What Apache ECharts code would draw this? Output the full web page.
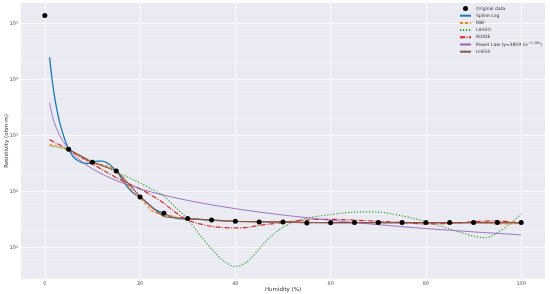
<!DOCTYPE html>
<html><head><meta charset="utf-8">
<script src="https://cdn.jsdelivr.net/npm/echarts@6/dist/echarts.min.js"></script>
<style>html,body{margin:0;padding:0;background:#fff}#c{width:550px;height:294px}</style>
</head><body><div id="c"></div>
<script>
const dataX = [0,5,10,15,20,25,30,35,40,45,50,55,60,65,70,75,80,85,90,95,100];
const dataY = [140000,570,334,234,80,41,33,31,29.5,28.8,28.8,27.6,27.9,28,28,28,28,28,28,28,28];

const splineX = [1,1.5,2,2.5,3,3.5,4,4.5,5,5.5,6,7,8,9,10,11,12,13,14,15,16,17,18,19,20,21,22,23,24,25,26,27,28,30,35,40,45,50,55,60,65,70,75,80,85,90,95,100];
const splineY = [25100,10500,5250,3020,1900,1320,955,725,570,480,415,355,325,318,334,350,352,330,285,234,178,132,105,89,80,68,57,49,44,41,37,35,33,32.7,31,29.5,28.8,28.6,28,27.9,28,28,28,28,28,28,28,28];

const rbfX = [1,2,3,4,5,6,7,8,9,10,11,12,13,14,15,16,17,18,19,20,21,22,23,24,25,26,27,28,30,32.5,35,40,45,50,55,60,65,70,75,80,85,90,92.5,95,97.5,100];
const rbfY = [690,665,640,610,570,500,440,390,355,334,320,305,290,265,234,190,145,112,90,78,62,50,43,40,39.5,38,36,34.5,33,32,31,29.5,28.8,28.8,27.8,27.9,28,28,28,28,28,28,27.5,26.5,26.5,27.5];

const lassoX = [1,2.5,5,7.5,10,12.5,15,17.5,20,22.5,25,27.5,30,32.5,35,37.5,40,42.5,45,47.5,50,52.5,55,57.5,60,62.5,65,67.5,70,72.5,75,77.5,80,82.5,85,87.5,90,92.5,95,97.5,100];
const lassoY = [660,620,560,440,340,280,225,180,143,110,83,52,32,17,9.5,5.8,4.6,5.6,9.5,16,23,29,33.5,36.5,39,41.5,43,43.5,43,40.5,37,33,29,25,21.5,18.5,16,15,18.5,26,40];

const ridgeX = [1,2.5,5,7.5,10,12.5,15,17.5,20,22.5,25,27.5,30,32.5,35,37.5,40,42.5,45,47.5,50,52.5,55,57.5,60,65,70,75,80,85,90,95,97.5,100];
const ridgeY = [850,730,560,420,312,235,178,140,112,85,62,42,31,26.5,24,22.8,22.5,23,25,26.5,28,30,31,32,32,31,29.5,28,26.5,27,29,30,29,27];

const powX = [1,1.5,2,3,4,5,6,8,10,12,15,20,25,30,35,40,45,50,60,70,80,90,100];
const powY = [3859,2392,1703,1055,752,578,466,332,255,206,158,112.5,86.5,69.7,58.1,49.7,43.2,38.2,30.8,25.7,21.9,19.1,16.9];

const loessX = [5,10,15,20,25,30,35,40,45,50,55,60,65,70,75,80,85,90,95,100];
const loessY = [570,334,234,82,36,33,31,29.5,29,28.8,28.2,28,28,28,28,28,28,28,28,28];

const xTicks = [0,20,40,60,80,100];
const yTicks = [10,100,1000,10000,100000];
const yMinor = [3,4,5,6,7,8,9,20,30,40,50,60,70,80,90,200,300,400,500,600,700,800,900,2000,3000,4000,5000,6000,7000,8000,9000,20000,30000,40000,50000,60000,70000,80000,90000,200000];

const names = ['Original data','Spline Log','RBF','LASSO','RIDGE','Power Law (y=3859.1x^-1.180)','LOESS'];

const zip = (a,b) => a.map((v,i)=>[v,b[i]]);
const FONT = 'DejaVu Sans';
const supMap = {'0':'⁰','1':'¹','2':'²','3':'³','4':'⁴','5':'⁵','6':'⁶','7':'⁷','8':'⁸','9':'⁹'};

const chart = echarts.init(document.getElementById('c'), null, {renderer:'canvas'});
const YMIN = 2.75, YMAX = 234000;
const option = {
  animation: false,
  backgroundColor: '#ffffff',
  grid: {left: 21, right: 5, top: 3, bottom: 15, show: true, backgroundColor: '#EAEAF2', borderWidth: 0,
    containLabel: false, outerBoundsMode: 'none'},
  xAxis: {
    type: 'value', min: -5, max: 105,
    name: 'Humidity (%)', nameLocation: 'middle', nameGap: 8, nameMoveOverlap: false,
    nameTextStyle: {fontFamily: FONT, fontSize: 5.5, color: '#333'},
    axisLine: {show: false}, axisTick: {show: false, customValues: xTicks},
    axisLabel: {customValues: xTicks, fontFamily: FONT, fontSize: 5, color: '#555', margin: 2},
    splitLine: {show: true, lineStyle: {color: '#ffffff', width: 0.8}}
  },
  yAxis: [{
    type: 'log', min: YMIN, max: YMAX, logBase: 10,
    name: 'Resistivity (ohm-m)', nameLocation: 'middle', nameGap: 11, nameMoveOverlap: false,
    nameTextStyle: {fontFamily: FONT, fontSize: 5.5, color: '#333'},
    axisLine: {show: false}, axisTick: {show: false, customValues: yTicks},
    axisLabel: {customValues: yTicks, fontFamily: FONT, fontSize: 5, color: '#555', margin: 3,
      formatter: v => '10' + String(Math.round(Math.log10(v))).split('').map(c=>supMap[c]).join('')},
    splitLine: {show: true, lineStyle: {color: '#ffffff', width: 0.8}}
  },{
    type: 'log', min: YMIN, max: YMAX, logBase: 10, position: 'left',
    axisLine: {show: false}, axisTick: {show: false, customValues: yMinor},
    axisLabel: {show: false},
    splitLine: {show: true, lineStyle: {color: '#ffffff', width: 0.5, opacity: 0.5}}
  }],
  legend: {
    orient: 'vertical', left: 459, top: 6, padding: 0,
    itemWidth: 11, itemHeight: 5, itemGap: 2.2,
    textStyle: {fontFamily: FONT, fontSize: 4.5, color: '#333', lineHeight: 5,
      rich: {s: {fontFamily: FONT, fontSize: 3.3, verticalAlign: 'top', padding: [0,0,2,0], color: '#333'}}},
    formatter: n => n.indexOf('^') >= 0 ? n.replace('^-1.180)', '{s|−1.180}') + ')' : n,
    data: names.map((n,i)=> i===0 ? {name:n, icon:'circle'} : {name:n, itemStyle: {opacity: 0}})
  },
  series: [
    {name: names[0], type: 'scatter', data: zip(dataX, dataY), symbolSize: 5, itemStyle: {color: '#000', opacity: 1}, z: 10},
    {name: names[1], type: 'line', data: zip(splineX, splineY), showSymbol: false, symbol: 'none', smooth: 0.2,
      lineStyle: {color: '#1f77b4', width: 1.3}, itemStyle: {color: '#1f77b4'}},
    {name: names[2], type: 'line', data: zip(rbfX, rbfY), showSymbol: false, symbol: 'none', smooth: 0.2,
      lineStyle: {color: '#ff7f0e', width: 1.2, type: [3,2]}, itemStyle: {color: '#ff7f0e'}},
    {name: names[3], type: 'line', data: zip(lassoX, lassoY), showSymbol: false, symbol: 'none', smooth: 0.3,
      lineStyle: {color: '#2ca02c', width: 1.2, type: [1.2,1.8]}, itemStyle: {color: '#2ca02c'}},
    {name: names[4], type: 'line', data: zip(ridgeX, ridgeY), showSymbol: false, symbol: 'none', smooth: 0.3,
      lineStyle: {color: '#d62728', width: 1.2, type: [5,1.5,1,1.5]}, itemStyle: {color: '#d62728'}},
    {name: names[5], type: 'line', data: zip(powX, powY), showSymbol: false, symbol: 'none', smooth: 0.3,
      lineStyle: {color: '#9467bd', width: 0.9}, itemStyle: {color: '#9467bd'}},
    {name: names[6], type: 'line', data: zip(loessX, loessY), showSymbol: false, symbol: 'none', smooth: 0.15,
      lineStyle: {color: '#8c564b', width: 1.1}, itemStyle: {color: '#8c564b'}}
  ]
};
chart.setOption(option);
</script></body></html>
